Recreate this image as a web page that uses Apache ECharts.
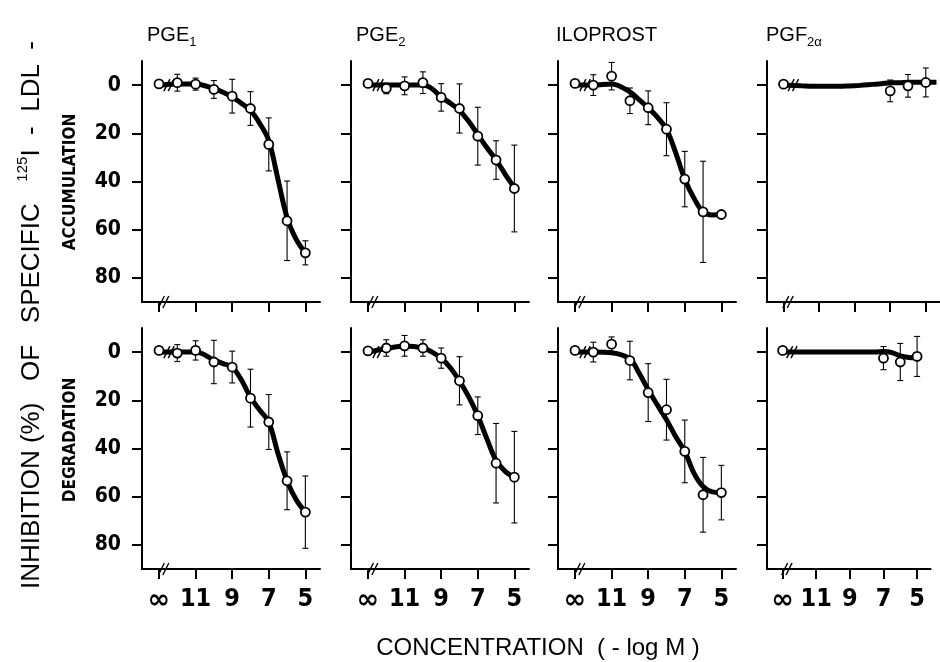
<!DOCTYPE html>
<html><head><meta charset="utf-8">
<script src="https://cdn.jsdelivr.net/npm/echarts@6.0.0/dist/echarts.min.js"></script>
<style>html,body{margin:0;padding:0;background:#fff}#c{width:940px;height:662px}</style>
</head><body><div id="c"></div>
<script>
// ---- data (13 on the axis stands for the "∞" position, i.e. no agonist) ----
const xTickValues = [13, 11, 9, 7, 5];
const xTickLabels = ['∞', '11', '9', '7', '5'];
const yTickValues = [0, 20, 40, 60, 80];
const panelTitles = [['PGE', '1'], ['PGE', '2'], ['ILOPROST', ''], ['PGF', '2α']];
const rowTitles = ['ACCUMULATION', 'DEGRADATION'];

const conc = [13, 12, 11, 10, 9, 8, 7, 6, 5];
const concPGF = [13, 7, 6, 5];
const curveX = [13, 12, 11, 10, 9.5, 9, 8.5, 8, 7.5, 7, 6.5, 6, 5.5, 5];
const curveXPGFacc = [13, 12, 11, 10, 9.5, 9, 8.5, 8, 7.5, 7, 6.5, 6, 5.5, 5, 4.4];

// accumulation (top row)
const pge1AccMean = [-0.5, -1, -0.4, 1.8, 4.6, 9.7, 24.6, 56.3, 69.6];
const pge1AccErr  = [0, 3.5, 2.5, 3.7, 7, 7, 11, 16.5, 5];
const pge1AccCurve = [0, -0.5, -0.5, 1.5, 3, 5, 7.5, 10.5, 15.8, 23, 39, 55, 64, 69.6];

const pge2AccMean = [-0.7, 1.4, 0.3, -1, 5.1, 9.7, 21.2, 31.1, 42.9];
const pge2AccErr  = [0, 2.2, 3.7, 4.5, 5.7, 10.2, 12, 8, 18];
const pge2AccCurve = [0, 0, 0, 0, 1.5, 5, 7.5, 10.5, 15, 20.5, 26, 31, 37, 42.5];

const iloAccMean = [-0.7, 0, -3.7, 6.5, 9.4, 18.3, 39, 52.6, 53.7];
const iloAccErr  = [0, 4.3, 5.7, 5.3, 7, 11, 11.5, 21, 0];
const iloAccCurve = [0, 0, -0.5, 2.8, 6, 9.4, 13.3, 18.3, 28, 39, 46.9, 52.6, 53.9, 53.7];

const pgfAccMean = [-0.4, 2.4, 0.3, -1.1];
const pgfAccErr  = [0, 4.5, 4.7, 6];
const pgfAccCurve = [0, 0.3, 0.5, 0.5, 0.4, 0.3, 0, -0.3, -0.6, -1, -1, -1.2, -1.2, -1.2, -1.2];

// degradation (bottom row)
const pge1DegMean = [-0.7, 0.4, -0.7, 4.1, 6.2, 19.1, 29, 53.4, 66.4];
const pge1DegErr  = [0, 3.5, 4, 9, 6.6, 12, 11.4, 12, 15];
const pge1DegCurve = [0, 0, 0, 3.2, 4.8, 6.2, 11.5, 18.8, 24, 29, 42, 53.4, 61.3, 66.4];

const pge2DegMean = [-0.5, -1.7, -2.6, -1.7, 2.5, 11.9, 26.4, 46.1, 51.9];
const pge2DegErr  = [0, 3.4, 4.3, 3.4, 4.2, 10, 7.8, 16.5, 19];
const pge2DegCurve = [0, -1.5, -2.5, -1.7, 0, 2.5, 6.5, 12, 18.5, 26.4, 36, 45, 49.5, 51.9];

const iloDegMean = [-0.7, 0, -3.3, 3.5, 16.8, 23.9, 41.2, 59.2, 58.3];
const iloDegErr  = [0, 4.1, 3, 8, 12, 12.6, 13, 15.5, 11.3];
const iloDegCurve = [0, 0, 0.3, 2.9, 8.7, 15.6, 21.9, 28.1, 35, 41.2, 50.2, 55.8, 58, 58.3];

const pgfDegMean = [-0.7, 2.5, 4.1, 1.8];
const pgfDegErr  = [0, 4.8, 7.7, 8.3];
const pgfDegCurve = [0, 0, 0, 0, 0, 0, 0, 0, 0, -0.2, 0.2, 1.6, 2.2, 2.3];

const panels = [
  [
    {x: conc, mean: pge1AccMean, err: pge1AccErr, cx: curveX, cy: pge1AccCurve},
    {x: conc, mean: pge2AccMean, err: pge2AccErr, cx: curveX, cy: pge2AccCurve},
    {x: conc, mean: iloAccMean, err: iloAccErr, cx: curveX, cy: iloAccCurve},
    {x: concPGF, mean: pgfAccMean, err: pgfAccErr, cx: curveXPGFacc, cy: pgfAccCurve}
  ],
  [
    {x: conc, mean: pge1DegMean, err: pge1DegErr, cx: curveX, cy: pge1DegCurve},
    {x: conc, mean: pge2DegMean, err: pge2DegErr, cx: curveX, cy: pge2DegCurve},
    {x: conc, mean: iloDegMean, err: iloDegErr, cx: curveX, cy: iloDegCurve},
    {x: concPGF, mean: pgfDegMean, err: pgfDegErr, cx: curveX, cy: pgfDegCurve}
  ]
];

// ---- layout / style ----
const NARROW = "'Liberation Sans Narrow','Arial Narrow','DejaVu Sans Condensed','Liberation Sans',sans-serif";
const SANS = "'Liberation Sans',Arial,sans-serif";
const lefts = [142, 351, 558, 767];
const tops = [61, 328];
const GW = 178, GH = 241;

function errItem(params, api) {
  const x = api.value(0), y = api.value(1), e = api.value(2);
  const a = api.coord([x, y - e]), b = api.coord([x, y + e]);
  const w = 3, st = {stroke: '#000', lineWidth: 1.1};
  return {type: 'group', children: [
    {type: 'line', shape: {x1: a[0], y1: a[1], x2: b[0], y2: b[1]}, style: st},
    {type: 'line', shape: {x1: a[0] - w, y1: a[1], x2: a[0] + w, y2: a[1]}, style: st},
    {type: 'line', shape: {x1: b[0] - w, y1: b[1], x2: b[0] + w, y2: b[1]}, style: st}
  ]};
}
function breakItem(params, api) {
  const p = api.coord([api.value(0), api.value(1)]);
  const ch = [];
  for (const d of [-2.2, 2.2]) {
    ch.push({type: 'line', shape: {x1: p[0] + d - 3, y1: p[1] + 6, x2: p[0] + d + 3, y2: p[1] - 6},
      style: {stroke: '#000', lineWidth: 1.4}});
  }
  return {type: 'group', children: ch};
}

const grid = [], xAxis = [], yAxis = [], series = [];
for (let r = 0; r < 2; r++) {
  for (let c = 0; c < 4; c++) {
    const i = r * 4 + c;
    const p = panels[r][c];
    grid.push({left: lefts[c], top: tops[r], width: GW, height: GH});
    xAxis.push({
      gridIndex: i, type: 'value', min: 4.2, max: 13.93, inverse: true,
      axisLine: {show: true, onZero: false, lineStyle: {color: '#000', width: 2}},
      axisTick: {show: true, customValues: xTickValues, length: 10, lineStyle: {color: '#000', width: 2}},
      axisLabel: {
        show: r === 1, customValues: xTickValues, margin: 18, color: '#000',
        fontFamily: NARROW, fontWeight: 'bold', fontSize: 25,
        formatter: v => { const k = xTickValues.indexOf(v); const t = k >= 0 ? xTickLabels[k] : ''; return t === '∞' ? '{inf|∞}' : t; },
        rich: {inf: {fontFamily: "'DejaVu Sans'", fontWeight: 'bold', fontSize: 27, color: '#000'}}
      },
      splitLine: {show: false}
    });
    yAxis.push({
      gridIndex: i, type: 'value', min: -10, max: 90, inverse: true,
      axisLine: {show: true, onZero: false, lineStyle: {color: '#000', width: 2}},
      axisTick: {show: true, customValues: yTickValues, length: 10, lineStyle: {color: '#000', width: 2}},
      axisLabel: {show: c === 0, customValues: yTickValues, margin: 21, color: '#000',
        fontFamily: NARROW, fontWeight: 'bold', fontSize: 21},
      splitLine: {show: false}
    });
    series.push({
      type: 'line', xAxisIndex: i, yAxisIndex: i, data: p.cx.map((x, k) => [x, p.cy[k]]),
      smooth: 0.35, showSymbol: false, lineStyle: {color: '#000', width: 5}, z: 2, silent: true
    });
    series.push({
      type: 'custom', xAxisIndex: i, yAxisIndex: i, renderItem: errItem, z: 3, silent: true,
      encode: {x: 0, y: 1},
      data: p.x.map((x, k) => [x, p.mean[k], p.err[k]]).filter(d => d[2] > 0)
    });
    series.push({
      type: 'scatter', xAxisIndex: i, yAxisIndex: i, data: p.x.map((x, k) => [x, p.mean[k]]),
      symbol: 'circle', symbolSize: 9, z: 4, silent: true,
      itemStyle: {color: '#fff', borderColor: '#000', borderWidth: 1.8, opacity: 1}
    });
    series.push({
      type: 'custom', xAxisIndex: i, yAxisIndex: i, renderItem: breakItem, z: 5, silent: true,
      encode: {x: 0, y: 1}, clip: false,
      data: [[12.75, 90], [12.45, p.cy[0]]]
    });
  }
}

const graphic = [];
const titleX = [147, 356, 556, 766];
panelTitles.forEach((t, c) => {
  graphic.push({type: 'text', x: titleX[c], y: 35, silent: true, style: {
    text: '{m|' + t[0] + '}' + (t[1] ? '{s|' + t[1] + '}' : ''),
    verticalAlign: 'middle', align: 'left', fill: '#000',
    rich: {m: {fontFamily: SANS, fontSize: 20, lineHeight: 28, fill: '#000'},
           s: {fontFamily: SANS, fontSize: 13, verticalAlign: 'bottom', fill: '#000'}}
  }});
});
graphic.push({type: 'text', x: 71, y: 182, rotation: Math.PI / 2, silent: true, style: {
  text: rowTitles[0], align: 'center', verticalAlign: 'middle', fill: '#000',
  fontFamily: NARROW, fontWeight: 'bold', fontSize: 17}});
graphic.push({type: 'text', x: 71, y: 440, rotation: Math.PI / 2, silent: true, style: {
  text: rowTitles[1], align: 'center', verticalAlign: 'middle', fill: '#000',
  fontFamily: NARROW, fontWeight: 'bold', fontSize: 17}});
graphic.push({type: 'text', x: 32, y: 315, rotation: Math.PI / 2, silent: true, style: {
  text: '{t|INHIBITION (%)   OF   SPECIFIC   }{u|125}{t|I  -  LDL  -}',
  align: 'center', verticalAlign: 'middle', fill: '#000',
  rich: {t: {fontFamily: SANS, fontSize: 26, lineHeight: 34, fill: '#000'},
         u: {fontFamily: SANS, fontSize: 15, verticalAlign: 'top', fill: '#000'}}
}});
graphic.push({type: 'text', x: 538, y: 648, silent: true, style: {
  text: 'CONCENTRATION  ( - log M )', align: 'center', verticalAlign: 'middle', fill: '#000',
  fontFamily: SANS, fontSize: 24}});

const chart = echarts.init(document.getElementById('c'), null, {renderer: 'canvas'});
chart.setOption({animation: false, backgroundColor: '#fff', grid, xAxis, yAxis, series, graphic});
</script></body></html>
